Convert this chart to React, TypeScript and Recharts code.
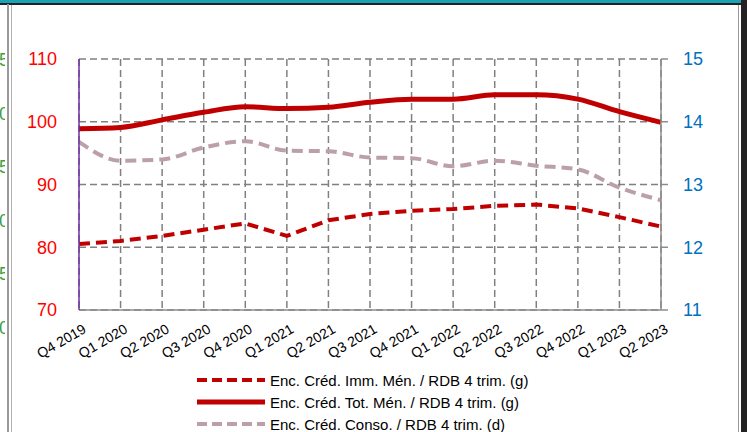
import React from 'react'
import { LineChart, Line, XAxis, YAxis, CartesianGrid } from 'recharts'

const quarters = [
  'Q4 2019', 'Q1 2020', 'Q2 2020', 'Q3 2020', 'Q4 2020', 'Q1 2021', 'Q2 2021', 'Q3 2021',
  'Q4 2021', 'Q1 2022', 'Q2 2022', 'Q3 2022', 'Q4 2022', 'Q1 2023', 'Q2 2023',
]
const immo = [80.5, 81.0, 81.8, 82.8, 83.8, 81.8, 84.3, 85.3, 85.8, 86.1, 86.6, 86.8, 86.2, 84.8, 83.3]
const total = [98.9, 99.1, 100.3, 101.5, 102.4, 102.1, 102.3, 103.1, 103.6, 103.6, 104.3, 104.3, 103.6, 101.6, 99.9]
const conso = [13.68, 13.38, 13.4, 13.59, 13.69, 13.54, 13.53, 13.43, 13.42, 13.29, 13.38, 13.3, 13.24, 12.95, 12.75]

const leftTicks = [70, 80, 90, 100, 110]
const rightTicks = [11, 12, 13, 14, 15]
const sideLabels = ['25', '20', '15', '10', '5', '0']

const legendItems = [
  { label: 'Enc. Créd. Imm. Mén. / RDB 4 trim. (g)', color: '#C00000', width: 4, dash: '10 5' },
  { label: 'Enc. Créd. Tot. Mén. / RDB 4 trim. (g)', color: '#C00000', width: 5, dash: undefined },
  { label: 'Enc. Créd. Conso. / RDB 4 trim. (d)', color: '#BBA0A8', width: 4, dash: '10 5' },
]

const data = quarters.map((q, i) => ({ q, immo: immo[i], total: total[i], conso: conso[i] }))

const FONT = '"Liberation Sans", Arial, sans-serif'

function QuarterTick({ x, y, payload }: any) {
  return (
    <text
      x={x}
      y={y}
      dy={16}
      dx={0}
      textAnchor="end"
      fontSize={14}
      fontFamily={FONT}
      fill="#000"
      transform={`rotate(-30 ${x} ${y})`}
    >
      {payload.value}
    </text>
  )
}

export default function App() {
  return (
    <div style={{ position: 'absolute', left: 0, top: 0, width: 747, height: 432, background: '#fff', overflow: 'hidden', fontFamily: FONT }}>
      {/* frame */}
      <div style={{ position: 'absolute', left: 0, top: 0, width: 747, height: 3, background: '#1AA3B5' }} />
      <div style={{ position: 'absolute', left: 0, top: 3, width: 741, height: 1.5, background: '#222' }} />
      <div style={{ position: 'absolute', left: 7, top: 4, width: 1.5, height: 428, background: '#9a9a9a' }} />
      <div style={{ position: 'absolute', left: 10.5, top: 5, width: 1, height: 427, background: '#b0b0b0' }} />
      <div style={{ position: 'absolute', left: 737.5, top: 5, width: 1.5, height: 427, background: '#9a9a9a' }} />
      <div style={{ position: 'absolute', left: 741, top: 0, width: 6, height: 432, background: '#222' }} />

      {/* clipped labels of neighbouring chart */}
      <div style={{ position: 'absolute', left: 0, top: 0, width: 5, height: 432, overflow: 'hidden' }}>
        {sideLabels.map((s, i) => (
          <div
            key={s}
            style={{ position: 'absolute', right: -4, top: 49 + i * 53.6, fontSize: 18, color: '#3CA03C', lineHeight: '22px' }}
          >
            {s}
          </div>
        ))}
      </div>

      <div style={{ position: 'absolute', left: 0, top: 0 }}>
        <LineChart width={747} height={432} data={data} margin={{ top: 59, right: 0, bottom: 0, left: 0 }}>
          <CartesianGrid yAxisId="left" stroke="#808080" strokeWidth={1.5} strokeDasharray="7 4" />
          <XAxis
            dataKey="q"
            interval={0}
            height={122}
            tick={<QuarterTick />}
            tickLine={false}
            axisLine={{ stroke: '#8c8c8c', strokeWidth: 1.5 }}
          />
          <YAxis
            yAxisId="left"
            orientation="left"
            width={79}
            domain={[70, 110]}
            ticks={leftTicks}
            tickLine={false}
            tickSize={0}
            tickMargin={22}
            axisLine={{ stroke: '#7030A0', strokeWidth: 1.5 }}
            tick={{ fill: '#FF0000', fontSize: 18, fontFamily: FONT }}
          />
          <YAxis
            yAxisId="right"
            orientation="right"
            width={86}
            domain={[11, 15]}
            ticks={rightTicks}
            tickLine={{ stroke: '#8c8c8c', strokeWidth: 1.5 }}
            tickSize={7}
            tickMargin={15}
            axisLine={{ stroke: '#8c8c8c', strokeWidth: 1.5 }}
            tick={{ fill: '#0070C0', fontSize: 18, fontFamily: FONT }}
          />
          <Line
            yAxisId="right"
            type="monotone"
            dataKey="conso"
            stroke="#BBA0A8"
            strokeWidth={4}
            strokeDasharray="11 6"
            dot={false}
            isAnimationActive={false}
          />
          <Line
            yAxisId="left"
            type="linear"
            dataKey="immo"
            stroke="#C00000"
            strokeWidth={4}
            strokeDasharray="11 6"
            dot={false}
            isAnimationActive={false}
          />
          <Line
            yAxisId="left"
            type="monotone"
            dataKey="total"
            stroke="#C00000"
            strokeWidth={5}
            dot={false}
            isAnimationActive={false}
          />
        </LineChart>
      </div>

      {/* legend */}
      {legendItems.map((it, i) => (
        <div key={it.label} style={{ position: 'absolute', left: 197, top: 369 + i * 22, height: 22, display: 'flex', alignItems: 'center' }}>
          <svg width={68} height={10}>
            <line x1={0} y1={5} x2={68} y2={5} stroke={it.color} strokeWidth={it.width} strokeDasharray={it.dash} />
          </svg>
          <span style={{ marginLeft: 5, fontSize: 15, color: '#000', whiteSpace: 'nowrap' }}>{it.label}</span>
        </div>
      ))}
    </div>
  )
}
